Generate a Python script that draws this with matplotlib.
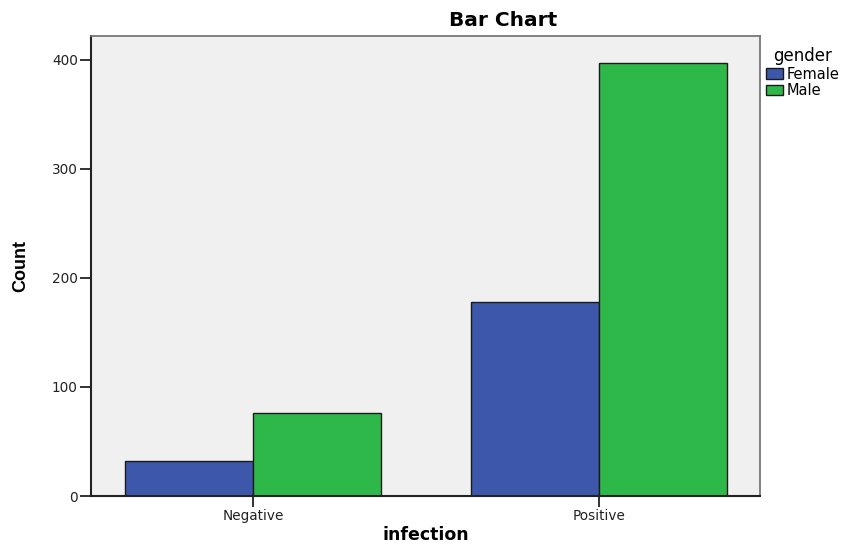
import matplotlib
matplotlib.use("Agg")
import matplotlib.pyplot as plt
import numpy as np
from matplotlib.patches import Patch

categories = ["Negative", "Positive"]
female = [32, 178]
male = [76, 397]
series_names = ["Female", "Male"]
colors = ["#3D57AB", "#2FB84A"]
yticks = [0, 100, 200, 300, 400]

plt.rcParams['font.family'] = ['DejaVu Sans']

fig = plt.figure(figsize=(8.42, 5.45), dpi=100)
W, H = 842, 545
ax_l, ax_r, ax_t, ax_b = 91, 760, 36, 496
ax = fig.add_axes([ax_l / W, 1 - ax_b / H, (ax_r - ax_l) / W, (ax_b - ax_t) / H])
ax.set_facecolor("#F0F0F0")

x = np.arange(len(categories))
bw = 0.371
ax.bar(x - bw / 2, female, bw, color=colors[0], edgecolor="#1a1a1a", linewidth=1.0, label=series_names[0])
ax.bar(x + bw / 2, male, bw, color=colors[1], edgecolor="#1a1a1a", linewidth=1.0, label=series_names[1])

ax.set_xlim(-0.468, 1.465)
ax.set_ylim(0, 422)
ax.set_xticks(x)
ax.set_xticklabels(categories, fontsize=9.8, color="#222222")
ax.set_yticks(yticks)
ax.set_yticklabels([str(v) for v in yticks], fontsize=9.8, color="#222222")
ax.tick_params(axis='both', direction='out', length=8, width=1.3, color="#222222", pad=1.5)

for s in ["top", "right"]:
    ax.spines[s].set_color("#777777")
    ax.spines[s].set_linewidth(1.3)
for s in ["left", "bottom"]:
    ax.spines[s].set_color("#222222")
    ax.spines[s].set_linewidth(1.5)

xl = ax.set_xlabel("infection", fontsize=12.5, fontweight="bold")
xl.set_va("center")
ax.xaxis.set_label_coords(0.5, (ax_b - 535) / (ax_b - ax_t))
yl = ax.set_ylabel("Count", fontsize=13, fontweight="bold",
                   family=['Liberation Sans Narrow', 'Liberation Sans', 'DejaVu Sans'])
yl.set_va("center")
ax.yaxis.set_label_coords((21 - ax_l) / (ax_r - ax_l), 0.5)

fig.text(503 / W, 1 - 21 / H, "Bar Chart", fontsize=14.5, fontweight="bold",
         ha="center", va="center")

handles = [Patch(facecolor=colors[i], edgecolor="#1a1a1a", label=series_names[i]) for i in range(2)]
leg = fig.legend(handles=handles, title="gender", loc="upper left",
                 bbox_to_anchor=(763 / W, 1 - 44 / H), frameon=False,
                 fontsize=10.5, title_fontsize=12, handlelength=1.15, handleheight=0.7,
                 handletextpad=0.25, labelspacing=0.12, borderaxespad=0, borderpad=0.2)

fig.savefig("out.png", dpi=100)
